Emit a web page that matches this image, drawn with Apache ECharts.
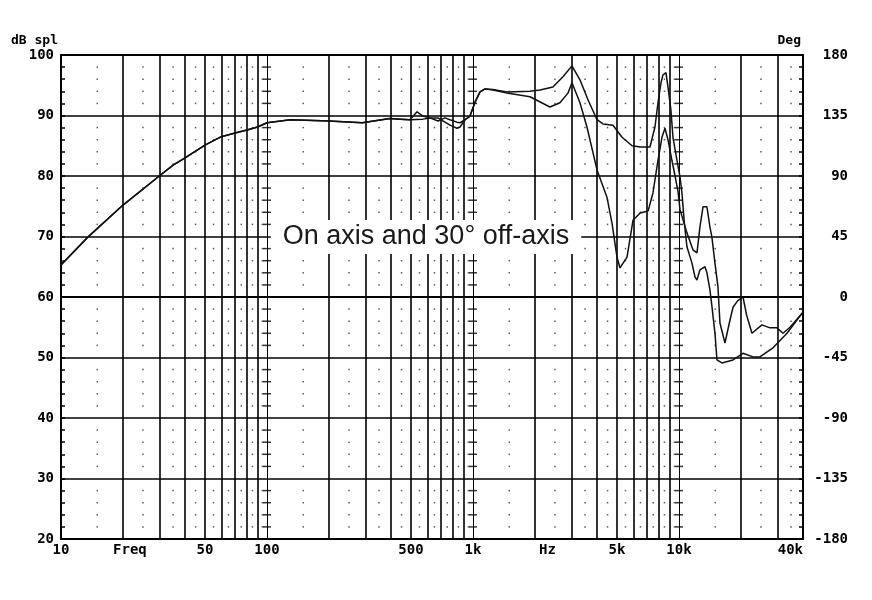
<!DOCTYPE html>
<html><head><meta charset="utf-8">
<script src="https://cdn.jsdelivr.net/npm/echarts@6/dist/echarts.min.js"></script>
<style>html,body{margin:0;padding:0;background:#fff}#c{width:872px;height:600px}</style>
</head><body><div id="c"></div>
<script>
// ---- data (Hz, dB SPL) ----
const onAxisFreq = [10,13.5,20,30,35,40,50,60,70,80,90,100,130,200,290,395,443,494,572,618,676,731,773,836,865,915,967,1023,1082,1144,1250,1462,1891,2115,2444,2734,3024,3306,3616,4000,4277,4783,5290,5916,6500,7230,7645,7907,8176,8359,8646,8845,9140,9350,9780,10120,10350,10600,10930,11560,11960,12230,12640,13370,13670,14130,14450,14950,15290,16160,18290,20450,22860,24700,28600,33450,40000];
const onAxisDb = [65.3,69.9,75.2,80.0,81.8,83.0,85.1,86.5,87.1,87.6,88.1,88.8,89.3,89.1,88.8,89.5,89.4,89.3,89.4,89.6,89.1,89.6,89.3,88.9,88.8,89.3,89.9,92.2,93.9,94.4,94.3,93.9,94.0,94.2,94.7,96.4,98.2,95.9,92.6,89.3,88.6,88.4,86.4,85.0,84.8,84.8,88.1,92.1,95.4,96.7,97.1,94.7,90.9,86.4,82.6,79.8,77.0,72.5,68.3,65.6,63.3,62.8,64.5,65.0,64.0,61.2,58.5,54.0,49.6,49.1,49.6,50.7,50.1,50.1,51.6,54.0,57.5];
const offAxisFreq = [10,13.5,20,30,35,40,50,60,70,80,90,100,130,200,290,395,443,494,535,572,618,676,731,773,836,865,915,967,1023,1082,1144,1250,1462,1891,2364,2643,2891,3024,3306,3575,4000,4470,4730,5000,5172,5594,5983,6477,7079,7477,7907,8268,8551,8845,9240,9570,9890,10120,10930,11690,12230,12640,13080,13670,14130,14450,14950,15460,15810,16720,17500,18290,19300,20450,21300,22610,25260,27660,29900,31990,34590,40000];
const offAxisDb = [65.3,69.9,75.2,80.0,81.8,83.0,85.1,86.5,87.1,87.6,88.1,88.8,89.3,89.1,88.8,89.5,89.4,89.3,90.6,89.9,89.6,89.6,88.9,88.4,87.9,88.1,89.3,89.9,92.2,93.9,94.4,94.2,93.7,93.1,91.4,92.1,93.7,95.4,92.1,88.1,81.0,76.5,72.2,66.6,64.8,66.6,72.7,73.9,74.2,77.2,82.6,86.4,87.9,86.0,82.6,80.0,77.5,74.4,70.6,67.8,67.3,71.6,74.9,74.9,71.6,69.9,65.6,61.7,55.7,52.4,55.5,58.3,59.4,60.0,57.0,54.0,55.4,54.9,54.9,54.0,55.0,57.5];

// ---- axis labels ----
const xLabelValues = [10, 21.6, 50, 100, 500, 1000, 2300, 5000, 10000, 40000];
const xLabelTexts  = ['10', 'Freq', '50', '100', '500', '1k', 'Hz', '5k', '10k', '40k'];
const splMin = 20, splMax = 100, splStep = 10;
const degMin = -180, degMax = 180, degStep = 45;
const titleText = 'On axis and 30\u00b0 off-axis';

// ---- grid decoration positions (frequencies) ----
const mults = [2,3,4,5,6,7,8,9];
const decades = [10,100,1000,10000];
const lineFreqs = [];
decades.forEach(d => mults.forEach(m => { const f = d*m; if (f < 40000) lineFreqs.push(f); }));
const decadeLines = [100, 1000, 10000];
const dotFreqs = [];
decades.forEach(d => [1.5,2.5,3.5,4.5,5.5,6.5,7.5,8.5,9.5].forEach(m => { const f = d*m; if (f < 40000) dotFreqs.push(f); }));
const minorLevels = [];
for (let v = splMin; v < splMax; v += 2) if (v % 10 !== 0) minorLevels.push(v);
const dots = [];
dotFreqs.forEach(f => minorLevels.forEach(v => dots.push([f, v])));
const crosses = [];
decadeLines.forEach(f => minorLevels.forEach(v => crosses.push([f, v])));

const pair = (fs, vs) => fs.map((f, i) => [f, vs[i]]);
const monoFont = 'DejaVu Sans Mono';
const ink = '#000';

const chart = echarts.init(document.getElementById('c'), null, {renderer: 'canvas'});
chart.setOption({
  animation: false,
  backgroundColor: '#fff',
  grid: {left: 61, right: 69, top: 55, bottom: 61, show: true, borderColor: ink, borderWidth: 2, backgroundColor: 'transparent'},
  xAxis: {
    type: 'log', logBase: 10, min: 10, max: 40000,
    axisLine: {show: true, lineStyle: {color: ink, width: 2}},
    axisTick: {show: false},
    splitLine: {show: false},
    minorTick: {show: false},
    axisLabel: {
      customValues: xLabelValues,
      formatter: v => { let best = 0, bd = 1e9; xLabelValues.forEach((x, i) => { const d = Math.abs(Math.log10(x) - Math.log10(v)); if (d < bd) { bd = d; best = i; } }); return xLabelTexts[best]; },
      color: ink, fontFamily: monoFont, fontWeight: 'bold', fontSize: 14, margin: 4,
      showMinLabel: true, showMaxLabel: true, alignMaxLabel: 'right'
    }
  },
  yAxis: [{
    type: 'value', min: splMin, max: splMax, interval: splStep, position: 'left',
    axisLine: {show: true, lineStyle: {color: ink, width: 2}},
    axisTick: {show: true, inside: true, length: 4, lineStyle: {color: ink, width: 1.5}},
    minorTick: {show: true, splitNumber: 5, length: 4, lineStyle: {color: ink, width: 1.5}},
    splitLine: {show: true, lineStyle: {color: ink, width: 1.5}},
    axisLabel: {color: ink, fontFamily: monoFont, fontWeight: 'bold', fontSize: 14, margin: 7}
  }, {
    type: 'value', min: degMin, max: degMax, interval: degStep, position: 'right',
    axisLine: {show: true, lineStyle: {color: ink, width: 2}},
    axisTick: {show: true, inside: true, length: 4, lineStyle: {color: ink, width: 1.5}},
    minorTick: {show: true, splitNumber: 5, length: 4, lineStyle: {color: ink, width: 1.5}},
    splitLine: {show: false},
    axisLabel: {color: ink, fontFamily: monoFont, fontWeight: 'bold', fontSize: 14, margin: 45, align: 'right'}
  }],
  graphic: [
    {type: 'text', z: 100, x: 58, y: 41, style: {text: 'dB spl', fill: ink, font: 'bold 13px "DejaVu Sans Mono"', align: 'right', verticalAlign: 'middle'}},
    {type: 'text', z: 100, x: 801, y: 41, style: {text: 'Deg', fill: ink, font: 'bold 13px "DejaVu Sans Mono"', align: 'right', verticalAlign: 'middle'}},
    {type: 'text', z: 100, x: 426, y: 237, style: {text: titleText, fill: '#1a1a1a', font: '27px "Liberation Sans"', align: 'center', verticalAlign: 'middle', backgroundColor: '#fff', padding: [4, 12, 3, 12]}}
  ],
  series: [
    {
      type: 'scatter', silent: true, symbol: 'rect', symbolSize: [1.5, 1.5],
      itemStyle: {color: '#333'}, data: dots, z: 1,
      markLine: {
        silent: true, symbol: ['none', 'none'], label: {show: false},
        lineStyle: {color: ink, width: 1.6, type: 'solid'},
        data: lineFreqs.map(f => ({xAxis: f}))
      }
    },
    {
      type: 'scatter', silent: true, symbol: 'rect', symbolSize: [8, 1.5],
      itemStyle: {color: ink}, data: crosses, z: 2,
      markLine: {
        silent: true, symbol: ['none', 'none'], label: {show: false},
        lineStyle: {color: ink, width: 1, type: 'solid'},
        data: decadeLines.map(f => ({xAxis: f}))
      }
    },
    {name: 'On axis', type: 'line', data: pair(onAxisFreq, onAxisDb), showSymbol: false, z: 5,
     lineStyle: {color: '#111', width: 1.5}},
    {name: '30\u00b0 off-axis', type: 'line', data: pair(offAxisFreq, offAxisDb), showSymbol: false, z: 5,
     lineStyle: {color: '#111', width: 1.5}}
  ]
});
</script></body></html>
